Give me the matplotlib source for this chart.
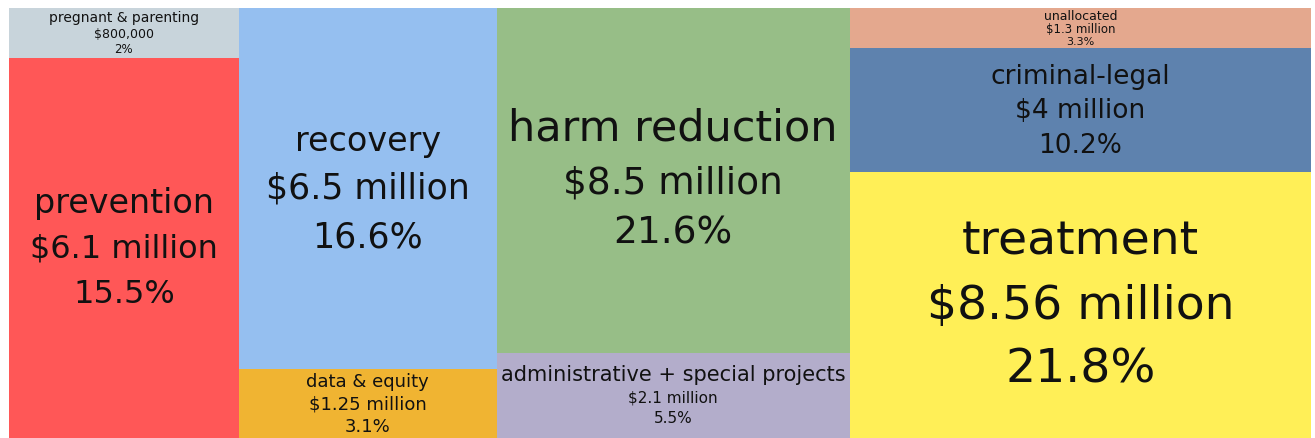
import matplotlib
matplotlib.use("Agg")
import matplotlib.pyplot as plt
from matplotlib.patches import Rectangle

# ---- data ----
categories = ["pregnant & parenting", "prevention", "recovery", "data & equity",
              "harm reduction", "administrative + special projects",
              "unallocated", "criminal-legal", "treatment"]
amounts_musd = [0.8, 6.1, 6.5, 1.25, 8.5, 2.1, 1.3, 4.0, 8.56]
amount_labels = ["$800,000", "$6.1 million", "$6.5 million", "$1.25 million",
                 "$8.5 million", "$2.1 million", "$1.3 million", "$4 million",
                 "$8.56 million"]
percent_labels = ["2%", "15.5%", "16.6%", "3.1%", "21.6%", "5.5%", "3.3%",
                  "10.2%", "21.8%"]
column_of = [0, 0, 1, 1, 2, 2, 3, 3, 3]

# ---- style ----
colors = ["#C8D4DB", "#FF5757", "#95BFF0", "#F0B432", "#97BE87", "#B3ADCB",
          "#E4A88E", "#5E82AE", "#FFEF57"]
line_sizes = [(10, 9, 8.5), (24, 23, 23), (24, 25, 25), (13, 13, 13),
              (31, 27, 27), (15, 11, 11), (9, 8.5, 8), (19, 19, 19),
              (34, 34, 34)]
spacing = [1.25, 1.4, 1.4, 1.25, 1.35, 1.3, 1.1, 1.3, 1.35]
text_color = "#111111"

W, H = 1315, 439
left, top, right, bottom = 9, 9, 1311, 439

fig = plt.figure(figsize=(W / 100, H / 100), dpi=100)
ax = fig.add_axes([0, 0, 1, 1])
ax.set_xlim(0, W)
ax.set_ylim(H, 0)
ax.axis("off")

total = sum(amounts_musd)
ncol = max(column_of) + 1
col_tot = [sum(a for a, c in zip(amounts_musd, column_of) if c == k) for k in range(ncol)]
col_x = []
x = left
for k in range(ncol):
    w = (right - left) * col_tot[k] / total
    col_x.append((x, w))
    x += w
col_y = [top] * ncol

px = 100 / 72
for i, cat in enumerate(categories):
    k = column_of[i]
    x0, w = col_x[k]
    h = (bottom - top) * amounts_musd[i] / col_tot[k]
    y0 = col_y[k]
    col_y[k] += h
    ax.add_patch(Rectangle((x0, y0), w, h, facecolor=colors[i], edgecolor="none"))
    lines = [cat, amount_labels[i], percent_labels[i]]
    sizes = line_sizes[i]
    gaps = [spacing[i] * (sizes[j] + sizes[j + 1]) / 2 * px for j in range(2)]
    block = sum(gaps)
    cy = y0 + h / 2 - block / 2
    for j, txt in enumerate(lines):
        ax.text(x0 + w / 2, cy, txt, ha="center", va="center",
                fontsize=sizes[j], color=text_color, family="DejaVu Sans")
        if j < 2:
            cy += gaps[j]

fig.savefig("out.png", dpi=100, facecolor="white")
